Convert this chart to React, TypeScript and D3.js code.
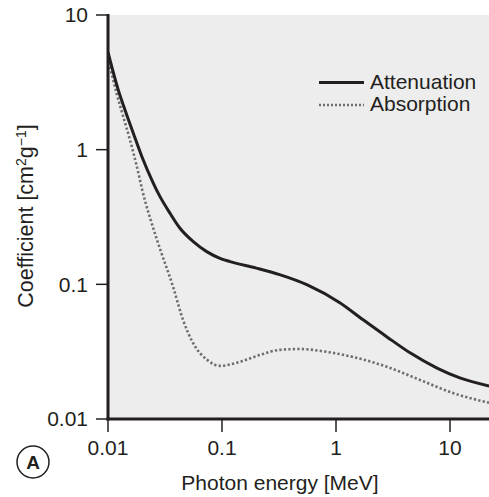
import React from "react";
import * as d3 from "d3";

const xTicks = [0.01, 0.1, 1, 10];
const xTickLabels = ["0.01", "0.1", "1", "10"];
const yTicks = [0.01, 0.1, 1, 10];
const yTickLabels = ["0.01", "0.1", "1", "10"];

const attenuationE = [0.01, 0.0123, 0.0141, 0.0167, 0.0198, 0.025, 0.0286, 0.035, 0.0428, 0.056, 0.0734, 0.0961, 0.1175, 0.2, 0.32, 0.56, 1.08, 1.73, 2.8, 4.46, 7.7, 12.2, 22];
const attenuationV = [5.3, 2.78, 1.97, 1.32, 0.89, 0.563, 0.448, 0.337, 0.261, 0.2075, 0.175, 0.156, 0.1475, 0.132, 0.118, 0.099, 0.073, 0.0545, 0.0407, 0.031, 0.0239, 0.0202, 0.0176];

const absorptionE = [0.01, 0.0119, 0.0136, 0.0156, 0.0179, 0.02, 0.0269, 0.0372, 0.0455, 0.0557, 0.074, 0.096, 0.144, 0.215, 0.32, 0.48, 0.83, 1.41, 2.8, 5.46, 10.6, 22];
const absorptionV = [4.8, 2.62, 1.76, 1.18, 0.75, 0.5, 0.214, 0.096, 0.0545, 0.0367, 0.0275, 0.0248, 0.0266, 0.0299, 0.0326, 0.0331, 0.0315, 0.0289, 0.0244, 0.0195, 0.0156, 0.0132];

const seriesNames = ["Attenuation", "Absorption"];

const FONT = "'Liberation Sans', Arial, Helvetica, sans-serif";
const INK = "#231f20";

export default function App() {
  const W = 489, H = 497;
  const left = 108, right = 489, top = 15, bottom = 419;
  const x = d3.scaleLog().domain([0.01, 21.98]).range([left, right]);
  const y = d3.scaleLog().domain([0.01, 10]).range([bottom, top]);

  const line = d3
    .line<[number, number]>()
    .x((d) => x(d[0]))
    .y((d) => y(d[1]))
    .curve(d3.curveMonotoneX);

  const att = attenuationE.map((e, i) => [e, attenuationV[i]] as [number, number]);
  const abs = absorptionE.map((e, i) => [e, absorptionV[i]] as [number, number]);

  return (
    <svg
      width={W}
      height={H}
      style={{ position: "absolute", left: 0, top: 0, display: "block" }}
      fontFamily={FONT}
    >
      <rect x={0} y={0} width={W} height={H} fill="#ffffff" />
      <rect x={left} y={top} width={right - left} height={bottom - top} fill="#ededed" />
      <defs>
        <clipPath id="plotclip">
          <rect x={left} y={top} width={right - left} height={bottom - top} />
        </clipPath>
      </defs>
      <g clipPath="url(#plotclip)">
        <path d={line(abs) || ""} fill="none" stroke="#6e6e6e" strokeWidth={2.6} strokeDasharray="2.3 2.2" />
        <path d={line(att) || ""} fill="none" stroke={INK} strokeWidth={3} />
      </g>

      {/* axes */}
      <line x1={left} x2={left} y1={top - 1} y2={bottom + 1.5} stroke={INK} strokeWidth={3} />
      <line x1={left - 1.5} x2={right} y1={bottom} y2={bottom} stroke={INK} strokeWidth={3} />

      {yTicks.map((t, i) => (
        <g key={"y" + i}>
          <line x1={left - 12} x2={left} y1={y(t)} y2={y(t)} stroke={INK} strokeWidth={1.5} />
          <text x={88} y={y(t)} dy="0.35em" textAnchor="end" fontSize={21} fill={INK}>
            {yTickLabels[i]}
          </text>
        </g>
      ))}
      {xTicks.map((t, i) => (
        <g key={"x" + i}>
          <line x1={x(t)} x2={x(t)} y1={bottom} y2={bottom + 13} stroke={INK} strokeWidth={1.5} />
          <text x={x(t)} y={455} textAnchor="middle" fontSize={21} fill={INK}>
            {xTickLabels[i]}
          </text>
        </g>
      ))}

      <text x={280} y={490} textAnchor="middle" fontSize={21} fill={INK}>
        Photon energy [MeV]
      </text>
      <text transform="translate(33,216) rotate(-90)" textAnchor="middle" fontSize={21.5} fill={INK}>
        Coefficient [cm
        <tspan fontSize={14} dy={-7}>2</tspan>
        <tspan dy={7}>g</tspan>
        <tspan fontSize={14} dy={-7}>−1</tspan>
        <tspan dy={7}>]</tspan>
      </text>

      {/* legend */}
      <line x1={319} x2={364} y1={82.5} y2={82.5} stroke={INK} strokeWidth={3} />
      <text x={370} y={88.5} fontSize={21} fill={INK}>{seriesNames[0]}</text>
      <line x1={319} x2={364} y1={105} y2={105} stroke="#6e6e6e" strokeWidth={2.4} strokeDasharray="2 2" />
      <text x={370} y={111} fontSize={21} fill={INK}>{seriesNames[1]}</text>

      {/* panel label */}
      <circle cx={33} cy={462} r={16} fill="#fff" stroke={INK} strokeWidth={1.5} />
      <text x={33} y={462} dy="0.36em" textAnchor="middle" fontSize={19} fontWeight="bold" fill={INK}>
        A
      </text>
    </svg>
  );
}
